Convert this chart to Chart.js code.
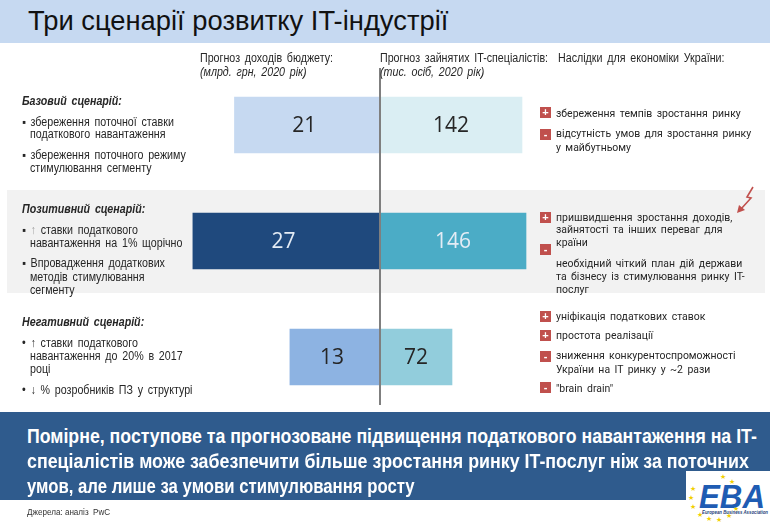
<!DOCTYPE html>
<html>
<head>
<meta charset="utf-8">
<script src="https://cdn.jsdelivr.net/npm/chart.js@4/dist/chart.umd.min.js"></script>
<style>
  body { margin: 0; width: 770px; height: 523px; overflow: hidden; position: relative; background: #fff;
         font-family: "Liberation Sans Narrow", "Liberation Sans", Arial, sans-serif; color: #262626; }
  #top { position: absolute; left: 0; top: 0; width: 770px; height: 43px; background: #c6d9f1; }
  #title { position: absolute; left: 28px; top: 4px; font-size: 28px; line-height: 34px; color: #111;
           white-space: nowrap; transform-origin: 0 0; }
  #band { position: absolute; left: 7px; top: 190px; width: 758px; height: 103px; background: #f2f2f2; }
  #chart { position: absolute; left: 0; top: 0; }
  .t { position: absolute; white-space: nowrap; font-size: 12px; line-height: 14px; word-spacing: 2px;
       transform: scaleX(0.89); transform-origin: 0 50%; }
  .h { font-weight: bold; font-style: italic; }
  .i { font-style: italic; }
  .r { font-family: Roboto, "Noto Sans", sans-serif; font-size: 11.5px; word-spacing: 2px; transform: scaleX(0.91); }
  .box { position: absolute; width: 11px; height: 11px; background: #c0504d; color: #fff;
         font: bold 11px/11px Arial, sans-serif; text-align: center; }
  #banner { position: absolute; left: 0; top: 412px; width: 770px; height: 88px; background: #2f5b8d; }
  .b { position: absolute; left: 27px; color: #fff; font-weight: bold; font-size: 21px; line-height: 25px;
       white-space: nowrap; transform-origin: 0 0; }
  #src { position: absolute; left: 27px; top: 507px; font-size: 9px; color: #333; transform: scaleX(0.9); transform-origin: 0 0; }
  #logo { position: absolute; left: 686px; top: 471px; width: 84px; height: 52px; background: #fff; }
</style>
</head>
<body>
<div id="top"></div>
<div id="title">Три сценарії розвитку IT-індустрії</div>
<div id="band"></div>
<canvas id="chart" width="770" height="523"></canvas>
<div id="text"></div>
<div id="banner"></div>
<div id="src">Джерела: аналіз &nbsp;PwC</div>
<div id="logo">
  <svg width="84" height="52" id="logosvg">
    <text x="13" y="37" font-family="Liberation Sans, Arial" font-weight="bold" font-style="italic"
          font-size="34" fill="#1f5cb3" textLength="66" lengthAdjust="spacingAndGlyphs">EBA</text>
    <text x="16" y="43" font-family="Liberation Sans, Arial" font-weight="bold" font-style="italic"
          font-size="5" fill="#1f3f7a" textLength="66" lengthAdjust="spacingAndGlyphs">European Business Association</text>
  </svg>
</div>
<svg id="arrow" width="30" height="32" style="position:absolute;left:729px;top:184px">
  <polyline points="24,3 18,13 22,14 12,25" fill="none" stroke="#c0504d" stroke-width="1.6"/>
  <polygon points="8,29 10,21 16,26" fill="#c0504d"/>
</svg>
<script>
  // дані
  let scenarios = ['Базовий сценарій', 'Позитивний сценарій', 'Негативний сценарій'];
  let budgetRevenue = [21, 27, 13];     // млрд грн, 2020 рік
  let itSpecialists = [142, 146, 72];   // тис. осіб, 2020 рік

  // кольори
  let budgetColors = ['#c6d9f1', '#1f497d', '#8db3e2'];
  let staffColors = ['#daeef3', '#4bacc6', '#92cddc'];
  let labelColors = ['#262626', '#e4ecf5', '#262626'];

  // текст
  let put = function (html, x, cy, cls) {
    let d = document.createElement('div');
    d.className = 't ' + (cls || '');
    d.style.left = x + 'px';
    d.style.top = (cy - 7) + 'px';
    d.innerHTML = html;
    document.getElementById('text').appendChild(d);
    return d;
  };
  let box = function (sign, x, y) {
    let d = document.createElement('div');
    d.className = 'box';
    d.style.left = x + 'px';
    d.style.top = y + 'px';
    d.textContent = sign;
    document.getElementById('text').appendChild(d);
  };

  put('Прогноз доходів бюджету:', 200, 58);
  put('(млрд. грн, 2020 рік)', 200, 72, 'i');
  put('Прогноз зайнятих IT-спеціалістів:', 380, 58);
  put('(тис. осіб, 2020 рік)', 380, 72, 'i');
  put('Наслідки для економіки України:', 558, 58);

  put('Базовий сценарій:', 22, 101, 'h');
  put('▪ збереження поточної ставки', 22, 122);
  put('податкового навантаження', 30, 134);
  put('▪ збереження поточного режиму', 22, 155);
  put('стимулювання сегменту', 30, 168);

  put('Позитивний сценарій:', 22, 209, 'h');
  put('▪ <span style="color:#a0a0a0">↑</span> ставки податкового', 22, 230);
  put('навантаження на 1% щорічно', 30, 243);
  put('▪ Впровадження додаткових', 22, 263);
  put('методів стимулювання', 30, 277);
  put('сегменту', 30, 290);

  put('Негативний сценарій:', 22, 322, 'h');
  put('• ↑ ставки податкового', 22, 343);
  put('навантаження до 20% в 2017', 30, 356);
  put('році', 30, 369);
  put('• ↓ % розробників ПЗ у структурі', 22, 390);

  box('+', 540, 107);
  put('збереження темпів зростання ринку', 556, 113, 'r');
  box('-', 540, 129);
  put('відсутність умов для зростання ринку', 556, 133, 'r');
  put('у майбутньому', 556, 147, 'r');

  box('+', 540, 212);
  put('пришвидшення зростання доходів,', 556, 217, 'r');
  put('зайнятості та інших переваг для', 556, 229, 'r');
  put('країни', 556, 242, 'r');
  box('-', 540, 244);
  put('необхідний чіткий план дій держави', 556, 263, 'r');
  put('та бізнесу із стимулювання ринку IT-', 556, 276, 'r');
  put('послуг', 556, 289, 'r');

  box('+', 540, 311);
  put('уніфікація податкових ставок', 556, 316, 'r');
  box('+', 540, 330);
  put('простота реалізації', 556, 335, 'r');
  box('-', 540, 351);
  put('зниження конкурентоспроможності', 556, 355, 'r');
  put('України на IT ринку у ~2 рази', 556, 369, 'r');
  box('-', 540, 382);
  put('"brain drain"', 556, 388, 'r');

  // висновок
  let lines = [
    'Помірне, поступове та прогнозоване підвищення податкового навантаження на IT-',
    'спеціалістів може забезпечити більше зростання ринку IT-послуг ніж за поточних',
    'умов, але лише за умови стимулювання росту'
  ];
  let widths = [730, 722, 388];
  lines.forEach(function (s, i) {
    let d = document.createElement('div');
    d.className = 'b';
    d.style.top = (423 + i * 25) + 'px';
    d.textContent = s;
    document.getElementById('banner').parentNode.appendChild(d);
    d.style.transform = 'scaleX(' + (widths[i] / d.offsetWidth) + ')';
  });
  let title = document.getElementById('title');
  title.style.transform = 'scaleX(' + (420 / title.offsetWidth) + ')';

  // зірки логотипу
  let svg = document.getElementById('logosvg');
  for (let k = 0; k < 12; k++) {
    let a = (-70 + k * 25) * Math.PI / 180;
    let s = document.createElementNS('http://www.w3.org/2000/svg', 'text');
    s.setAttribute('x', 29 - 24 * Math.sin(a + Math.PI / 2 + Math.PI));
    s.setAttribute('y', 29 + 22 * Math.sin(a));
    s.setAttribute('font-size', '7');
    s.setAttribute('fill', '#f2cf00');
    s.setAttribute('text-anchor', 'middle');
    s.textContent = '★';
    svg.insertBefore(s, svg.firstChild);
  }

  let valueLabels = {
    id: 'valueLabels',
    afterDatasetsDraw: function (chart) {
      let ctx = chart.ctx;
      ctx.save();
      ctx.font = '21px "Open Sans"';
      ctx.textAlign = 'center';
      ctx.textBaseline = 'middle';
      chart.data.datasets.forEach(function (ds, i) {
        chart.getDatasetMeta(i).data.forEach(function (bar, j) {
          ctx.fillStyle = labelColors[j];
          ctx.fillText(ds.data[j], (bar.x + bar.base) / 2 - (i == 0 ? 3 : 0), bar.y + 1);
        });
      });
      // вісь посередині
      let x = chart.scales.xR.getPixelForValue(0);
      ctx.strokeStyle = '#7f7f7f';
      ctx.lineWidth = 2;
      ctx.beginPath();
      ctx.moveTo(x, 68);
      ctx.lineTo(x, 405);
      ctx.stroke();
      ctx.restore();
    }
  };

  new Chart(document.getElementById('chart'), {
    type: 'bar',
    data: {
      labels: scenarios,
      datasets: [
        { label: 'Прогноз доходів бюджету', data: budgetRevenue, xAxisID: 'xL',
          backgroundColor: budgetColors, grouped: false, barThickness: 56 },
        { label: 'Прогноз зайнятих IT-спеціалістів', data: itSpecialists, xAxisID: 'xR',
          backgroundColor: staffColors, grouped: false, barThickness: 56 }
      ]
    },
    options: {
      indexAxis: 'y',
      responsive: false,
      animation: false,
      layout: { padding: { left: 180, right: 230, top: 67, bottom: 108 } },
      plugins: { legend: { display: false }, tooltip: { enabled: false } },
      scales: {
        y: { display: false, offset: true },
        xL: { type: 'linear', display: false, reverse: true, min: -23.09, max: 28.86 },
        xR: { type: 'linear', display: false, min: -200, max: 160 }
      }
    },
    plugins: [valueLabels]
  });
</script>
</body>
</html>
